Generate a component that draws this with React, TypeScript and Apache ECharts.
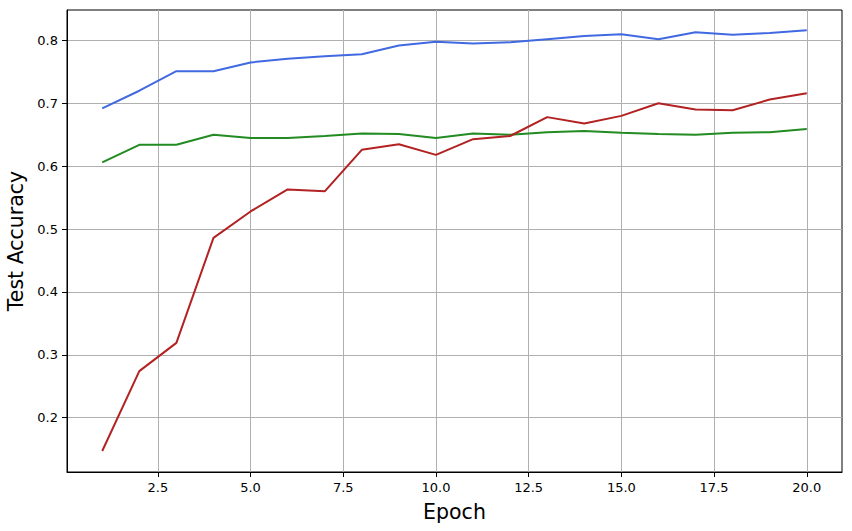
import React, { useEffect, useRef } from "react";
import * as echarts from "echarts";

const epochs = [1, 2, 3, 4, 5, 6, 7, 8, 9, 10, 11, 12, 13, 14, 15, 16, 17, 18, 19, 20];
const blueSeries = [0.692, 0.72, 0.751, 0.751, 0.765, 0.771, 0.775, 0.778, 0.792, 0.798, 0.795, 0.797, 0.802, 0.807, 0.81, 0.802, 0.813, 0.809, 0.812, 0.816];
const greenSeries = [0.606, 0.634, 0.634, 0.65, 0.645, 0.645, 0.648, 0.652, 0.651, 0.645, 0.652, 0.65, 0.654, 0.656, 0.653, 0.651, 0.65, 0.653, 0.654, 0.659];
const redSeries = [0.147, 0.274, 0.319, 0.486, 0.528, 0.563, 0.56, 0.626, 0.635, 0.618, 0.643, 0.648, 0.678, 0.668, 0.68, 0.7, 0.69, 0.689, 0.706, 0.716];
const xTicks = [2.5, 5.0, 7.5, 10.0, 12.5, 15.0, 17.5, 20.0];
const yTicks = [0.2, 0.3, 0.4, 0.5, 0.6, 0.7, 0.8];

const FONT = "DejaVu Sans";

export default function App() {
  const ref = useRef<HTMLDivElement>(null);
  useEffect(() => {
    if (!ref.current) return;
    const chart = echarts.init(ref.current, undefined, { renderer: "svg" });
    const mk = (vals: number[], color: string) => ({
      type: "line",
      data: epochs.map((e, i) => [e, vals[i]]),
      showSymbol: false,
      symbol: "none",
      lineStyle: { color, width: 2 },
      itemStyle: { color },
      z: 3,
    });
    const ymin = 0.1136;
    const ymax = 0.8484;
    chart.setOption({
      animation: false,
      backgroundColor: "#ffffff",
      grid: {
        left: 67,
        right: 10,
        top: 10,
        bottom: 59,
        show: true,
        borderColor: "#000",
        borderWidth: 1,
        containLabel: false,
        outerBoundsMode: "none",
      },
      xAxis: {
        type: "value",
        min: 0.05,
        max: 20.95,
        name: "Epoch",
        nameLocation: "middle",
        nameGap: 29,
        nameTextStyle: { fontFamily: FONT, fontSize: 20.5, color: "#000" },
        axisLine: { show: true, lineStyle: { color: "#000", width: 1 } },
        axisTick: { show: true, inside: false, length: 5, customValues: xTicks, lineStyle: { color: "#000" } },
        axisLabel: {
          customValues: xTicks,
          margin: 9,
          fontFamily: FONT,
          fontSize: 13,
          color: "#000",
          formatter: (v: number) => v.toFixed(1),
        },
        splitLine: { show: true, lineStyle: { color: "#b0b0b0", width: 1 } },
      },
      yAxis: {
        type: "value",
        min: ymin,
        max: ymax,
        name: "Test Accuracy",
        nameLocation: "middle",
        nameGap: 37,
        nameRotate: 90,
        nameTextStyle: { fontFamily: FONT, fontSize: 20.5, color: "#000" },
        axisLine: { show: true, lineStyle: { color: "#000", width: 1 } },
        axisTick: { show: true, inside: false, length: 5, customValues: yTicks, lineStyle: { color: "#000" } },
        axisLabel: {
          customValues: yTicks,
          margin: 9,
          fontFamily: FONT,
          fontSize: 13,
          color: "#000",
          formatter: (v: number) => v.toFixed(1),
        },
        splitLine: { show: true, lineStyle: { color: "#b0b0b0", width: 1 } },
      },
      series: [mk(blueSeries, "#4169E1"), mk(greenSeries, "#228B22"), mk(redSeries, "#B22222")],
    });
    return () => chart.dispose();
  }, []);
  return (
    <div
      ref={ref}
      style={{ position: "absolute", left: 0, top: 0, width: 852, height: 531 }}
    />
  );
}
